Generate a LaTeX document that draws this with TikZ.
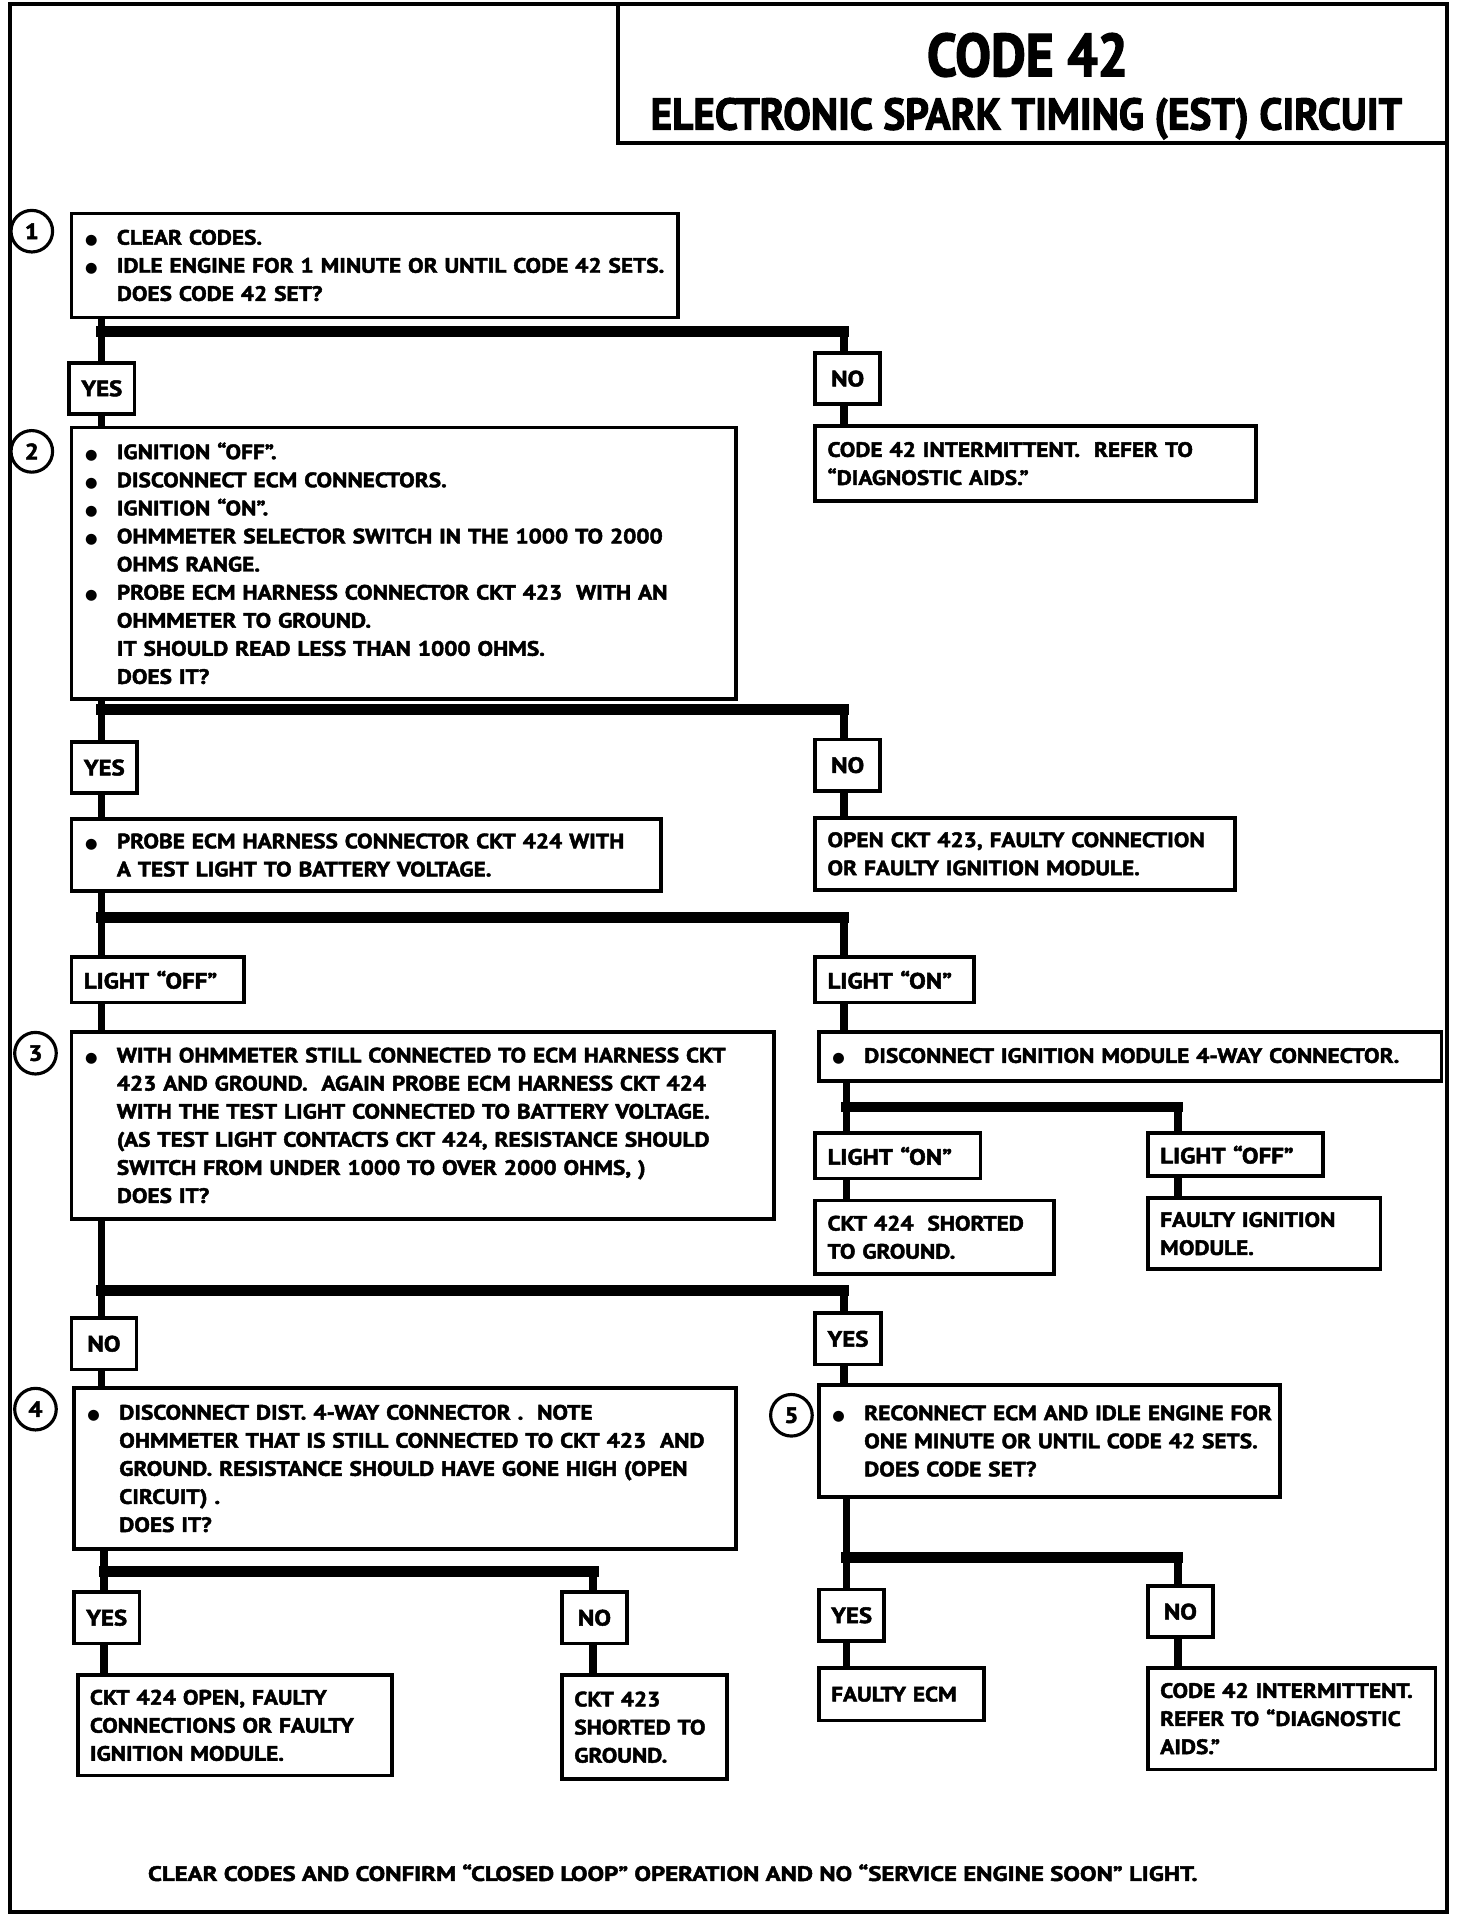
\documentclass[tikz,border=0pt]{standalone}
\usepackage{graphicx}
\usepackage{fontspec}
\setmainfont{PT Sans}[FakeStretch=1.12, BoldFeatures={FakeBold=2.2}]
\newfontfamily\titlefont{PT Sans}[BoldFeatures={FakeBold=2.4}]
\newfontfamily\symfont{DejaVu Sans}
\usetikzlibrary{positioning, calc}
\newcommand{\chartfont}{\fontsize{14.5}{19.6}\selectfont\bfseries}
\newcommand{\labelfont}{\fontsize{15.5}{19.6}\selectfont\bfseries}
\newcommand{\bul}{\makebox[0.78cm][l]{{\symfont\fontsize{10}{10}\selectfont ●}}}
\newcommand{\nobul}{\hspace*{0.78cm}}
\tikzset{
  stepbox/.style={rectangle, draw, line width=2.6pt, anchor=north west,
    align=left, inner xsep=0.33cm, inner ysep=0pt, font=\chartfont},
  endbox/.style={rectangle, draw, line width=2.6pt, anchor=north west,
    align=left, inner xsep=0.3cm, inner ysep=0pt, font=\chartfont},
  answer/.style={rectangle, draw, line width=2.6pt, anchor=north west,
    inner xsep=0.3cm, minimum width=1.59cm, minimum height=1.26cm, font=\labelfont},
  lightbox/.style={answer, align=left, minimum height=1.11cm},
  stepnum/.style={circle, draw, line width=2.2pt, minimum size=1.02cm,
    inner sep=0pt, font=\labelfont},
  trunk/.style={line width=5.5pt},
  bar/.style={line width=7.5pt, line cap=rect}
}

\begin{document}
\begin{tikzpicture}[x=0.03cm, y=-0.03cm,
  frame/.style={line width=2.6pt},
  heading/.style={font=\titlefont\bfseries}
]
  \useasboundingbox (0,0) rectangle (1203,1568);
  \draw[frame] (8,3) rectangle (1183,1563);

  % Title block
  \draw[frame] (505,3) -- (505,117) -- (1183,117);
  \node[heading, font=\titlefont\fontsize{42}{48}\selectfont\bfseries] (title) at (840,45)
    {\scalebox{0.89}[1]{CODE 42}};
  \node[heading, font=\titlefont\fontsize{31}{36}\selectfont\bfseries] (subtitle) at (839,97)
    {\scalebox{0.93}[1]{ELECTRONIC SPARK TIMING (EST) CIRCUIT}};

  % Step 1
  \node[stepnum] (c1) at (26,189) {1};
  \node[stepbox, text width=14.22cm, minimum height=2.55cm] (s1) at (57,173)
    {\bul CLEAR CODES.\\ \bul IDLE ENGINE FOR 1 MINUTE OR UNTIL CODE 42 SETS.\\ \nobul DOES CODE 42 SET?};
  \node[answer] (y1) at (55,295) {YES};
  \node[answer] (n1) at (665,287) {NO};
  \node[endbox, text width=10.2cm, minimum height=1.83cm] (r1) at (665,347)
    {CODE 42 INTERMITTENT.\ \ REFER TO\\ “DIAGNOSTIC AIDS.”};

  % Step 2
  \node[stepnum] (c2) at (26,369) {2};
  \node[stepbox, text width=15.63cm, minimum height=6.66cm] (s2) at (57,348)
    {\bul IGNITION “OFF”.\\ \bul DISCONNECT ECM CONNECTORS.\\ \bul IGNITION “ON”.\\
     \bul OHMMETER SELECTOR SWITCH IN THE 1000 TO 2000\\ \nobul OHMS RANGE.\\
     \bul PROBE ECM HARNESS CONNECTOR CKT 423\ \ WITH AN\\ \nobul OHMMETER TO GROUND.\\
     \nobul IT SHOULD READ LESS THAN 1000 OHMS.\\ \nobul DOES IT?};
  \node[answer] (y2) at (57,605) {YES};
  \node[answer] (n2) at (665,603) {NO};
  \node[endbox, text width=9.69cm, minimum height=1.77cm] (r2) at (665,667)
    {OPEN CKT 423, FAULTY CONNECTION\\ OR FAULTY IGNITION MODULE.};
  \node[stepbox, text width=13.8cm, minimum height=1.77cm] (p1) at (57,668)
    {\bul PROBE ECM HARNESS CONNECTOR CKT 424 WITH\\ \nobul A TEST LIGHT TO BATTERY VOLTAGE.};
  \node[lightbox, text width=3.63cm] (lo1) at (57,781) {LIGHT “OFF”};
  \node[lightbox, text width=3.3cm] (ln1) at (665,781) {LIGHT “ON”};

  % Ignition module check
  \node[stepbox, text width=14.61cm, minimum height=1.2cm] (d1) at (668,842)
    {\bul DISCONNECT IGNITION MODULE 4-WAY CONNECTOR.};
  \node[lightbox, text width=3.45cm] (ln2) at (665,925) {LIGHT “ON”};
  \node[lightbox, text width=3.69cm, minimum height=1.05cm] (lo2) at (937,925) {LIGHT “OFF”};
  \node[endbox, text width=5.25cm, minimum height=1.8cm] (r3) at (665,980)
    {CKT 424\ \ SHORTED\\ TO GROUND.};
  \node[endbox, text width=5.1cm, minimum height=1.74cm] (r4) at (937,978)
    {FAULTY IGNITION\\ MODULE.};

  % Step 3
  \node[stepnum] (c3) at (29,861) {3};
  \node[stepbox, text width=16.56cm, minimum height=4.59cm] (s3) at (57,842)
    {\bul WITH OHMMETER STILL CONNECTED TO ECM HARNESS CKT\\
     \nobul 423 AND GROUND.\ \ AGAIN PROBE ECM HARNESS CKT 424\\
     \nobul WITH THE TEST LIGHT CONNECTED TO BATTERY VOLTAGE.\\
     \nobul (AS TEST LIGHT CONTACTS CKT 424, RESISTANCE SHOULD\\
     \nobul SWITCH FROM UNDER 1000 TO OVER 2000 OHMS, )\\ \nobul DOES IT?};
  \node[answer] (n3) at (57,1076) {NO};
  \node[answer] (y3) at (665,1072) {YES};

  % Step 4
  \node[stepnum] (c4) at (29,1152) {4};
  \node[stepbox, text width=15.57cm, minimum height=3.96cm] (s4) at (59,1133)
    {\bul DISCONNECT DIST. 4-WAY CONNECTOR .\ \ NOTE\\
     \nobul OHMMETER THAT IS STILL CONNECTED TO CKT 423\ \ AND\\
     \nobul GROUND. RESISTANCE SHOULD HAVE GONE HIGH (OPEN\\
     \nobul CIRCUIT) .\\ \nobul DOES IT?};
  \node[answer] (y4) at (59,1300) {YES};
  \node[answer] (n4) at (458,1300) {NO};
  \node[endbox, text width=7.11cm, minimum height=2.46cm] (r5) at (62,1368)
    {CKT 424 OPEN, FAULTY\\ CONNECTIONS OR FAULTY\\ IGNITION MODULE.};
  \node[endbox, text width=3.45cm, minimum height=2.55cm] (r6) at (458,1368)
    {CKT 423\\ SHORTED TO\\ GROUND.};

  % Step 5
  \node[stepnum] (c5) at (647,1157) {5};
  \node[stepbox, text width=10.65cm, minimum height=2.73cm] (s5) at (668,1131)
    {\bul \mbox{RECONNECT ECM AND IDLE ENGINE FOR}\\ \nobul ONE MINUTE OR UNTIL CODE 42 SETS.\\
     \nobul DOES CODE SET?};
  \node[answer] (y5) at (668,1298) {YES};
  \node[answer] (n5) at (937,1295) {NO};
  \node[endbox, text width=3.45cm, minimum height=1.29cm] (r7) at (668,1362) {FAULTY ECM};
  \node[endbox, text width=6.45cm, minimum height=2.49cm] (r8) at (937,1362)
    {CODE 42 INTERMITTENT.\\ REFER TO “DIAGNOSTIC\\ AIDS.”};

  \node[font=\chartfont] (foot) at (550,1531)
    {\scalebox{1.066}[1]{CLEAR CODES AND CONFIRM “CLOSED LOOP” OPERATION AND NO “SERVICE ENGINE SOON” LIGHT.}};

  % Branch points
  \coordinate (b1l) at (83,271);  \coordinate (b1r) at (690,271);
  \coordinate (b2l) at (83,580);  \coordinate (b2r) at (690,580);
  \coordinate (b3l) at (83,750);  \coordinate (b3r) at (690,750);
  \coordinate (b4l) at (692,905); \coordinate (b4r) at (963,905);
  \coordinate (b5l) at (83,1055); \coordinate (b5r) at (690,1055);
  \coordinate (b6l) at (85,1285); \coordinate (b6r) at (485,1285);
  \coordinate (b7l) at (692,1273); \coordinate (b7r) at (963,1273);

  % Connectors
  \draw[trunk] (b1l |- s1.south) -- (b1l |- y1.north);
  \draw[bar] (b1l) -- (b1r);
  \draw[trunk] (b1r) -- (b1r |- n1.north);
  \draw[trunk] (b1l |- y1.south) -- (b1l |- s2.north);
  \draw[trunk] (b1r |- n1.south) -- (b1r |- r1.north);

  \draw[trunk] (b2l |- s2.south) -- (b2l |- y2.north);
  \draw[bar] (b2l) -- (b2r);
  \draw[trunk] (b2r) -- (b2r |- n2.north);
  \draw[trunk] (b2l |- y2.south) -- (b2l |- p1.north);
  \draw[trunk] (b2r |- n2.south) -- (b2r |- r2.north);

  \draw[trunk] (b3l |- p1.south) -- (b3l |- lo1.north);
  \draw[bar] (b3l) -- (b3r);
  \draw[trunk] (b3r) -- (b3r |- ln1.north);
  \draw[trunk] (b3l |- lo1.south) -- (b3l |- s3.north);
  \draw[trunk] (b3r |- ln1.south) -- (b3r |- d1.north);

  \draw[trunk] (b4l |- d1.south) -- (b4l |- ln2.north);
  \draw[bar] (b4l) -- (b4r);
  \draw[trunk] (b4r) -- (b4r |- lo2.north);
  \draw[trunk] (b4l |- ln2.south) -- (b4l |- r3.north);
  \draw[trunk] (b4r |- lo2.south) -- (b4r |- r4.north);

  \draw[trunk] (b5l |- s3.south) -- (b5l |- n3.north);
  \draw[bar] (b5l) -- (b5r);
  \draw[trunk] (b5r) -- (b5r |- y3.north);
  \draw[trunk] (b5l |- n3.south) -- (b5l |- s4.north);
  \draw[trunk] (b5r |- y3.south) -- (b5r |- s5.north);

  \draw[trunk] (b6l |- s4.south) -- (b6l |- y4.north);
  \draw[bar] (b6l) -- (b6r);
  \draw[trunk] (b6r) -- (b6r |- n4.north);
  \draw[trunk] (b6l |- y4.south) -- (b6l |- r5.north);
  \draw[trunk] (b6r |- n4.south) -- (b6r |- r6.north);

  \draw[trunk] (b7l |- s5.south) -- (b7l |- y5.north);
  \draw[bar] (b7l) -- (b7r);
  \draw[trunk] (b7r) -- (b7r |- n5.north);
  \draw[trunk] (b7l |- y5.south) -- (b7l |- r7.north);
  \draw[trunk] (b7r |- n5.south) -- (b7r |- r8.north);
\end{tikzpicture}
\end{document}
